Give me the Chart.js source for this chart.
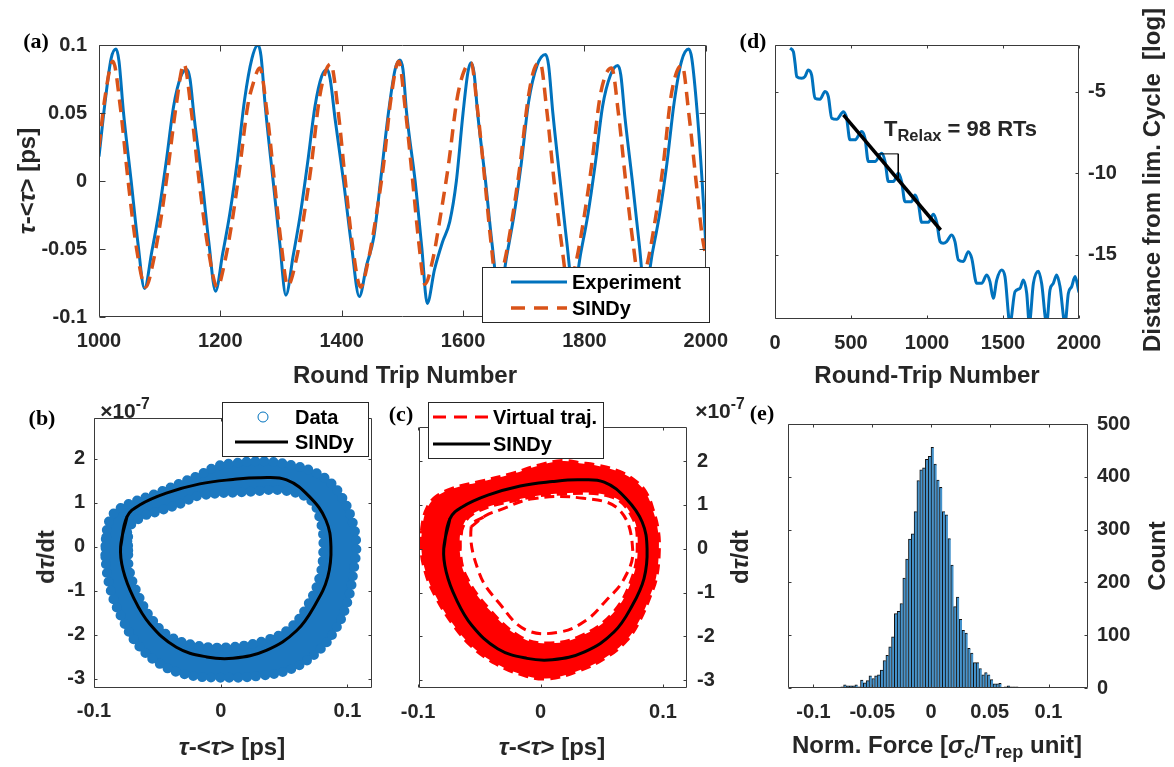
<!DOCTYPE html>
<html>
<head>
<meta charset="utf-8">
<script src="https://cdn.jsdelivr.net/npm/chart.js@4.4.0/dist/chart.umd.min.js"></script>
<style>
  body { margin: 0; background: #fff; }
  #fig { position: relative; width: 1174px; height: 767px; overflow: hidden; background: #fff; }
  canvas { position: absolute; }
  .txt { position: absolute; white-space: nowrap; font-family: "Liberation Sans", Arial, sans-serif;
         font-weight: bold; font-size: 24px; line-height: 1; color: #262626; }
  .txt sub { font-size: 0.75em; vertical-align: -0.3em; line-height: 0; }
  .txt sup { font-size: 0.75em; vertical-align: 0.55em; line-height: 0; }
</style>
</head>
<body>
<div id="fig">
  <canvas id="cA" width="740" height="400" style="left:0;top:0"></canvas>
  <canvas id="cD" width="444" height="400" style="left:730px;top:0"></canvas>
  <canvas id="cB" width="390" height="387" style="left:0;top:380px"></canvas>
  <canvas id="cC" width="390" height="387" style="left:380px;top:380px"></canvas>
  <canvas id="cE" width="414" height="387" style="left:760px;top:380px"></canvas>
</div>
<script>
// ---- (a) time series, round trip 1000..2000
const aExpRT = [1000,1010,1020,1028,1033,1040,1053,1064,1075,
  1087,1099,1111,1123,1135,1145,1150,1157,1170,1181,1192,
  1204,1216,1228,1240,1252,1262,1267,1274,1287,1298,1308,
  1320,1332,1344,1356,1367,1376,1381,1389,1403,1416,1429,
  1441,1453,1464,1477,1488,1496,1501,1507,1521,1532,1541,
  1553,1566,1578,1589,1600,1608,1613,1618,1624,1637,1648,1660,
  1672,1684,1696,1708,1722,1736,1741,1748,1760,1771,1782,
  1794,1806,1818,1830,1843,1855,1860,1867,1879,1890,1900,
  1912,1924,1936,1948,1960,1972,1977,1986,1994,2000];
const aExpTau = [0.018,0.058,0.090,0.097,0.088,0.052,0.000,-0.045,-0.079,
  -0.052,-0.022,0.015,0.055,0.077,0.082,0.075,0.046,0.000,-0.045,-0.081,
  -0.053,-0.023,0.015,0.060,0.090,0.100,0.092,0.055,0.000,-0.046,-0.084,
  -0.055,-0.024,0.014,0.055,0.077,0.082,0.075,0.046,0.000,-0.047,-0.085,
  -0.062,-0.041,0.000,0.050,0.082,0.089,0.082,0.050,0.000,-0.049,-0.090,
  -0.065,-0.045,-0.030,0.000,0.050,0.080,0.087,0.080,0.050,0.000,-0.047,-0.085,
  -0.055,-0.025,0.013,0.058,0.085,0.093,0.085,0.050,0.000,-0.045,-0.082,
  -0.053,-0.024,0.013,0.055,0.078,0.085,0.078,0.046,0.000,-0.045,-0.082,
  -0.053,-0.024,0.013,0.058,0.088,0.097,0.090,0.050,0.000,-0.046];
const aSinRT = [1000,1010,1023,1035,1048,1062,1077,1090,1103,1114,1127,1140,1152,1165,1180,1195,1208,1221,
  1232,1245,1253,1265,1277,1289,1300,1311,1325,1338,1350,1363,1373,1382,1394,1406,1418,1431,1444,1457,
  1469,1481,1494,1505,1517,1527,1537,1550,1563,1576,1590,1601,1613,1624,1636,1646,1656,1669,1682,1694,
  1707,1717,1727,1738,1750,1762,1774,1787,1800,1812,1825,1835,1845,1856,1868,1880,1892,1905,1918,1930,
  1942,1952,1961,1972,1984,1994,2000];
const aSinTau = [0.025,0.062,0.088,0.055,0.000,-0.050,-0.078,-0.058,-0.025,0.010,0.055,0.086,0.052,0.000,
  -0.050,-0.078,-0.058,-0.025,0.010,0.055,0.070,0.083,0.050,0.000,-0.045,-0.077,-0.058,-0.025,0.012,0.060,
  0.080,0.086,0.052,0.000,-0.048,-0.078,-0.058,-0.025,0.012,0.060,0.088,0.052,0.000,-0.045,-0.076,-0.058,
  -0.025,0.012,0.060,0.080,0.087,0.052,0.000,-0.045,-0.078,-0.058,-0.025,0.012,0.060,0.082,0.087,0.052,
  0.000,-0.045,-0.078,-0.058,-0.025,0.012,0.060,0.078,0.083,0.050,0.000,-0.045,-0.078,-0.058,-0.025,0.012,
  0.060,0.080,0.085,0.050,0.000,-0.040,-0.055];
const aXTicks = [1000, 1200, 1400, 1600, 1800, 2000];
const aYTicks = [-0.1, -0.05, 0, 0.05, 0.1];

// ---- (d) distance from limit cycle (log)
const dRT = [99,121,132,143,175,197,219,241,263,296,329,351,373,406,450,471,493,526,570,592,614,658,702,724,
  746,779,811,833,855,899,921,943,965,1009,1042,1064,1086,1107,1129,1162,1184,1206,1239,1272,1294,1327,
  1360,1393,1414,1436,1459,1491,1513,1546,1579,1612,1634,1656,1673,1700,1733,1754,1787,1809,1831,1853,
  1875,1908,1930,1952,1974,2000];
const dDist = [-2.32,-2.53,-3.24,-4.06,-4.16,-4.06,-3.65,-3.96,-5.39,-5.45,-4.98,-5.29,-6.61,-6.68,-6.21,
  -6.61,-7.94,-7.94,-7.43,-7.84,-9.27,-9.27,-8.76,-9.27,-10.5,-10.5,-9.99,-10.5,-11.73,-11.73,-11.32,-11.83,
  -13.0,-13.0,-12.5,-13.0,-14.18,-14.28,-14.18,-13.77,-14.18,-15.3,-15.4,-14.8,-15.2,-16.74,-16.74,-16.23,
  -16.64,-17.66,-16.53,-15.92,-16.33,-19.2,-17.25,-17.05,-16.53,-17.35,-19.2,-16.74,-16.0,-16.74,-19.2,
  -17.15,-16.74,-16.23,-16.94,-19.2,-17.35,-16.94,-16.33,-17.3];
const dFitRT = [450, 1090];
const dFitDist = [-6.41, -13.47];
const dTriRT = [666, 811, 811];
const dTriDist = [-8.8, -8.8, -10.39];
const dXTicks = [0, 500, 1000, 1500, 2000];
const dYTicks = [-15, -10, -5];

// ---- (b),(c) phase portraits, d tau/dt in units of 1e-7
const sindyLoop = [[-0.079,0.00],[-0.074,0.68],[-0.064,0.95],[-0.043,1.22],[-0.0165,1.43],[0.0097,1.53],
  [0.031,1.57],[0.052,1.52],[0.070,1.14],[0.083,0.61],[0.087,0.00],[0.0845,-0.68],[0.075,-1.29],
  [0.060,-1.90],[0.036,-2.35],[0.0097,-2.53],[-0.011,-2.50],[-0.035,-2.28],[-0.056,-1.75],[-0.069,-1.14],
  [-0.077,-0.53]];
const bOuter = [[-0.091,-0.23],[-0.090,0.36],[-0.086,0.70],[-0.079,0.88],[-0.067,1.04],[-0.050,1.22],
  [-0.029,1.48],[-0.016,1.64],[-0.003,1.83],[0.010,1.90],[0.036,1.94],[0.060,1.83],[0.072,1.72],
  [0.085,1.50],[0.095,1.16],[0.103,0.66],[0.107,0.08],[0.105,-0.52],[0.100,-1.25],[0.090,-1.90],
  [0.075,-2.42],[0.055,-2.78],[0.031,-2.93],[-0.003,-2.97],[-0.029,-2.89],[-0.049,-2.64],[-0.066,-2.20],
  [-0.078,-1.62],[-0.087,-0.97]];
const bInner = [[-0.073,-0.08],[-0.073,0.40],[-0.062,0.68],[-0.050,0.80],[-0.031,0.99],[-0.017,1.16],
  [0.023,1.25],[0.049,1.28],[0.071,1.06],[0.079,0.55],[0.081,0.00],[0.078,-0.70],[0.068,-1.36],
  [0.055,-1.84],[0.037,-2.11],[0.010,-2.27],[-0.017,-2.25],[-0.040,-2.04],[-0.054,-1.66],[-0.065,-1.10],
  [-0.072,-0.54]];
const cOuter = [[-0.0974,0.04],[-0.0961,0.57],[-0.0920,0.95],[-0.0851,1.18],[-0.0716,1.37],[-0.0498,1.52],
  [-0.0226,1.71],[-0.0008,1.90],[0.0182,2.00],[0.0318,1.95],[0.0455,1.90],[0.0645,1.75],[0.0781,1.52],
  [0.0863,1.26],[0.0917,0.88],[0.0958,0.42],[0.0966,-0.04],[0.0944,-0.65],[0.089,-1.10],[0.0808,-1.63],
  [0.070,-2.09],[0.0536,-2.47],[0.0318,-2.77],[0.0046,-2.96],[-0.0171,-2.85],[-0.0362,-2.62],
  [-0.0553,-2.24],[-0.0716,-1.71],[-0.0851,-1.10],[-0.0933,-0.57]];
const cInner = [[-0.066,-0.04],[-0.0647,0.42],[-0.0553,0.80],[-0.0226,1.10],[0.018,1.26],[0.059,1.18],
  [0.0753,0.72],[0.0794,0.12],[0.0753,-0.65],[0.059,-1.48],[0.032,-2.01],[0.0046,-2.16],[-0.017,-2.01],
  [-0.0416,-1.40],[-0.0607,-0.65]];
const cVirtual = [[-0.0566,0.50],[-0.045,0.75],[-0.0335,0.88],[-0.0063,1.14],[0.035,1.15],[0.0645,0.88],
  [0.0753,-0.04],[0.068,-0.70],[0.0536,-1.18],[0.0373,-1.63],[0.0155,-1.90],[-0.012,-1.85],
  [-0.0335,-1.25],[-0.0498,-0.57]];
const phXTicks = [-0.1, 0, 0.1];
const phYTicks = [-3, -2, -1, 0, 1, 2];

// ---- (e) histogram of normalised force
const histX = [-0.0996,-0.0900,-0.0780,-0.0756,-0.0732,-0.0708,-0.0684,-0.0660,-0.0636,-0.0612,-0.0588,
  -0.0564,-0.0540,-0.0516,-0.0492,-0.0468,-0.0444,-0.0420,-0.0396,-0.0372,-0.0348,-0.0324,-0.0300,-0.0276,
  -0.0252,-0.0228,-0.0204,-0.0180,-0.0156,-0.0132,-0.0108,-0.0084,-0.0060,-0.0036,-0.0012,0.0012,0.0036,
  0.0060,0.0084,0.0108,0.0132,0.0156,0.0180,0.0204,0.0228,0.0252,0.0276,0.0300,0.0324,0.0348,0.0372,
  0.0396,0.0420,0.0444,0.0468,0.0492,0.0516,0.0540,0.0564,0.0588,0.0612,0.0636,0.0660,0.0684,0.0708,
  0.0732,0.0756,0.0780,0.0804];
const histCount = [1,1,1,2,6,4,4,4,6,2,15,10,14,23,18,23,25,34,52,62,78,97,141,145,160,208,244,282,292,334,
  393,413,417,433,439,456,424,394,380,334,328,283,233,154,172,130,109,104,75,66,48,48,37,25,29,25,16,8,8,
  9,1,2,4,2,2,2,0,1,1];
const eXTicks = [-0.1, -0.05, 0, 0.05, 0.1];
const eYTicks = [0, 100, 200, 300, 400, 500];

const FONT = '"Liberation Sans", Arial, sans-serif';
const BLUE = '#0072BD', ORANGE = '#D95319', RED = '#FF0000', BAND = '#1c78c0';
const pairs = (xs, ys) => xs.map((x, i) => ({ x: x, y: ys[i] }));
const loop = (pts) => pts.concat(pts.slice(0, 2)).map(p => ({ x: p[0], y: p[1] }));

function axis(pos, min, max, ticks, size, pad) {
  return {
    type: 'linear', position: pos, min: min, max: max, offset: false,
    grid: { display: false, drawTicks: false }, border: { display: false },
    afterBuildTicks: (s) => { s.ticks = ticks.map(v => ({ value: v })); },
    afterFit: (s) => { if (pos === 'bottom') s.height = size; else s.width = size; },
    ticks: { padding: pad, color: '#262626', autoSkip: false, maxRotation: 0,
      font: { family: FONT, size: 20, weight: 'bold' }, callback: (v) => String(v) }
  };
}

function drawLegend(ctx, L) {
  ctx.save();
  ctx.fillStyle = '#fff';
  ctx.fillRect(L.x, L.y, L.w, L.h);
  ctx.strokeStyle = '#262626';
  ctx.lineWidth = 1;
  ctx.strokeRect(L.x + 0.5, L.y + 0.5, L.w, L.h);
  ctx.font = 'bold 20px ' + FONT;
  ctx.textBaseline = 'middle';
  L.items.forEach(it => {
    ctx.strokeStyle = it.color;
    if (it.kind === 'circle') {
      ctx.lineWidth = 1;
      ctx.beginPath();
      ctx.arc(it.cx, it.y, it.r, 0, Math.PI * 2);
      ctx.stroke();
    } else {
      ctx.lineWidth = it.width;
      ctx.setLineDash(it.dash || []);
      ctx.beginPath();
      ctx.moveTo(it.x0, it.y);
      ctx.lineTo(it.x1, it.y);
      ctx.stroke();
      ctx.setLineDash([]);
    }
    ctx.fillStyle = '#000';
    ctx.fillText(it.text, it.tx, it.y + 1);
  });
  ctx.restore();
}

// box with inward ticks on all four sides, MATLAB style, then the legend on top
const frame = {
  id: 'frame',
  afterDatasetsDraw(chart, args, o) {
    const ctx = chart.ctx, a = chart.chartArea;
    const L = Math.round(a.left) + 0.5, R = Math.round(a.right) - 0.5;
    const T = Math.round(a.top) + 0.5, B = Math.round(a.bottom) - 0.5;
    const xs = chart.scales.x, ys = chart.scales.y;
    ctx.save();
    ctx.strokeStyle = '#3a3a3a';
    ctx.lineWidth = 1;
    ctx.beginPath();
    ctx.rect(L, T, R - L, B - T);
    xs.ticks.forEach(t => {
      const p = Math.round(xs.getPixelForValue(t.value)) + 0.5;
      ctx.moveTo(p, B); ctx.lineTo(p, B - o.len);
      ctx.moveTo(p, T); ctx.lineTo(p, T + o.len);
    });
    ys.ticks.forEach(t => {
      const p = Math.round(ys.getPixelForValue(t.value)) + 0.5;
      ctx.moveTo(L, p); ctx.lineTo(L + o.len, p);
      ctx.moveTo(R, p); ctx.lineTo(R - o.len, p);
    });
    ctx.stroke();
    ctx.restore();
    if (o.legend) drawLegend(ctx, o.legend);
  }
};

function baseOptions(pad, scales, frameOpts) {
  return {
    responsive: false, animation: false, events: [],
    layout: { padding: pad },
    plugins: { legend: { display: false }, tooltip: { enabled: false }, frame: frameOpts },
    scales: scales
  };
}

// (a)
new Chart(document.getElementById('cA'), {
  type: 'line',
  data: { datasets: [
    { data: pairs(aSinRT, aSinTau), borderColor: ORANGE, borderWidth: 3.5, borderDash: [13, 8],
      pointRadius: 0, cubicInterpolationMode: 'monotone', fill: false },
    { data: pairs(aExpRT, aExpTau), borderColor: BLUE, borderWidth: 3, pointRadius: 0,
      cubicInterpolationMode: 'monotone', fill: false }
  ]},
  options: baseOptions({ left: 0, right: 28, top: 45, bottom: 0 }, {
    x: axis('bottom', 1000, 2000, aXTicks, 83, 12),
    y: axis('left', -0.1, 0.1, aYTicks, 99, 12)
  }, { len: 6, legend: { x: 482, y: 267, w: 227, h: 55, items: [
    { kind: 'line', x0: 511, x1: 567, y: 282, color: BLUE, width: 3, text: 'Experiment', tx: 572 },
    { kind: 'line', x0: 511, x1: 567, y: 308, color: ORANGE, width: 3.5, dash: [14, 9], text: 'SINDy', tx: 572 }
  ]}}),
  plugins: [frame]
});

// (d)
new Chart(document.getElementById('cD'), {
  type: 'line',
  data: { datasets: [
    { data: pairs(dFitRT, dFitDist), borderColor: '#000', borderWidth: 3.5, pointRadius: 0, fill: false },
    { data: pairs(dTriRT, dTriDist), borderColor: '#000', borderWidth: 1, pointRadius: 0, fill: false },
    { data: pairs(dRT, dDist), borderColor: BLUE, borderWidth: 3, pointRadius: 0,
      cubicInterpolationMode: 'monotone', fill: false }
  ]},
  options: baseOptions({ left: 45, right: 35, top: 45, bottom: 0 }, {
    x: axis('bottom', 0, 2000, dXTicks, 81, 12),
    y: axis('right', -18.93, -2.12, dYTicks, 60, 9)
  }, { len: 3 }),
  plugins: [frame]
});

// (b) band of data circles: filled ring with a row of round dots along each edge
const dotted = { borderWidth: 10, borderDash: [0, 9], borderCapStyle: 'round', pointRadius: 0, tension: 0.4 };
new Chart(document.getElementById('cB'), {
  type: 'scatter',
  data: { datasets: [
    { data: loop(sindyLoop), showLine: true, borderColor: '#000', borderWidth: 3, pointRadius: 0, tension: 0.4 },
    Object.assign({ data: loop(bInner), showLine: true, fill: 'shape', backgroundColor: '#fff', borderColor: BAND }, dotted),
    Object.assign({ data: loop(bOuter), showLine: true, fill: 'shape', backgroundColor: BAND, borderColor: BAND }, dotted)
  ]},
  options: baseOptions({ left: 0, right: 18, top: 38, bottom: 0 }, {
    x: axis('bottom', -0.1, 0.1194, phXTicks, 79, 11),
    y: axis('left', -3.205, 2.926, phYTicks, 94, 9)
  }, { len: 3, legend: { x: 222, y: 22, w: 146, h: 54, items: [
    { kind: 'circle', cx: 263, y: 37, r: 5, color: BLUE, text: 'Data', tx: 295 },
    { kind: 'line', x0: 235, x1: 288, y: 62, color: '#000', width: 3, text: 'SINDy', tx: 295 }
  ]}}),
  plugins: [frame]
});

// (c)
new Chart(document.getElementById('cC'), {
  type: 'scatter',
  data: { datasets: [
    { data: loop(sindyLoop), showLine: true, borderColor: '#000', borderWidth: 3, pointRadius: 0, tension: 0.4 },
    { data: loop(cVirtual), showLine: true, borderColor: RED, borderWidth: 3, borderDash: [10, 6],
      pointRadius: 0, tension: 0.4 },
    { data: loop(cInner), showLine: true, fill: 'shape', backgroundColor: '#fff', borderColor: RED,
      borderWidth: 4, borderDash: [10, 6], pointRadius: 0, tension: 0.4 },
    { data: loop(cOuter), showLine: true, fill: 'shape', backgroundColor: RED, borderColor: RED,
      borderWidth: 4, borderDash: [10, 6], pointRadius: 0, tension: 0.4 }
  ]},
  options: baseOptions({ left: 39, right: 33, top: 47, bottom: 0 }, {
    x: axis('bottom', -0.0992, 0.1196, phXTicks, 79, 12),
    y: axis('right', -3.176, 2.775, phYTicks, 50, 10)
  }, { len: 3, legend: { x: 48, y: 22, w: 175, h: 56, items: [
    { kind: 'line', x0: 53, x1: 110, y: 37, color: RED, width: 3, dash: [13, 8], text: 'Virtual traj.', tx: 113 },
    { kind: 'line', x0: 53, x1: 110, y: 64, color: '#000', width: 3, text: 'SINDy', tx: 113 }
  ]}}),
  plugins: [frame]
});

// (e)
new Chart(document.getElementById('cE'), {
  type: 'bar',
  data: { datasets: [
    { data: pairs(histX, histCount), backgroundColor: '#4593cc', borderColor: '#111',
      borderWidth: { left: 1, top: 1, right: 0, bottom: 0 }, borderSkipped: false,
      barPercentage: 1, categoryPercentage: 1, grouped: false }
  ]},
  options: baseOptions({ left: 28, right: 36, top: 44, bottom: 0 }, {
    x: axis('bottom', -0.1217, 0.1336, eXTicks, 79, 12),
    y: axis('right', 0, 500, eYTicks, 50, 9)
  }, { len: 3 }),
  plugins: [frame]
});

// text: panel letters, axis titles, annotations
const fig = document.getElementById('fig');
function put(html, x, y, o) {
  o = o || {};
  const d = document.createElement('div');
  d.className = 'txt';
  d.innerHTML = html;
  d.style.left = x + 'px';
  d.style.top = y + 'px';
  if (o.size) d.style.fontSize = o.size + 'px';
  if (o.serif) { d.style.fontFamily = '"Liberation Serif", "Times New Roman", serif'; d.style.color = '#000'; }
  if (!o.corner) d.style.transform = 'translate(-50%, -50%)' + (o.rot ? ' rotate(-90deg)' : '');
  fig.appendChild(d);
}
const tau = '<i>&tau;</i>';
put('(a)', 36, 41, { serif: true, size: 22 });
put('(d)', 753, 41, { serif: true, size: 22 });
put('(b)', 42, 418, { serif: true, size: 22 });
put('(c)', 401, 414, { serif: true, size: 22 });
put('(e)', 762, 413, { serif: true, size: 22 });

put(tau + '-&lt;' + tau + '&gt; [ps]', 27, 181, { rot: true });
put('Round Trip Number', 405, 375);
put('Round-Trip Number', 927, 375);
put('Distance from lim. Cycle&nbsp; [log]', 1152, 180, { rot: true });
put('T<sub>Relax</sub> = 98 RTs', 884, 118, { corner: true, size: 22 });

put('d' + tau + '/dt', 46, 557, { rot: true });
put(tau + '-&lt;' + tau + '&gt; [ps]', 232, 747);
put('&times;10<sup>-7</sup>', 125, 410, { size: 21 });

put('d' + tau + '/dt', 740, 557, { rot: true });
put(tau + '-&lt;' + tau + '&gt; [ps]', 552, 747);
put('&times;10<sup>-7</sup>', 720, 410, { size: 21 });

put('Norm. Force [<i>&sigma;</i><sub>c</sub>/T<sub>rep</sub> unit]', 937, 745);
put('Count', 1157, 556, { rot: true });
</script>
</body>
</html>
